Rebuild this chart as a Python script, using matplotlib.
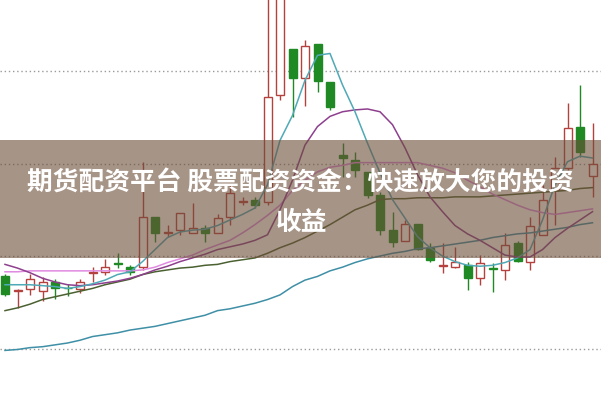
import matplotlib
matplotlib.use("Agg")
import matplotlib.pyplot as plt
from matplotlib.patches import Rectangle

# ──────────────────────────────────────────────────────────────
# Daily candles (price)
# ──────────────────────────────────────────────────────────────
opens = [9.78, 9.62, 9.64, 9.62, 9.72, 9.66, 9.64, 9.82, 9.83, 9.92, 9.88, 9.88,
         10.42, 10.25, 10.28, 10.25, 10.30, 10.25, 10.42, 10.58, 10.61, 10.58,
         11.74, 12.24, 11.92, 12.29, 11.88, 11.09, 11.04, 10.91, 10.66, 10.28,
         10.16, 10.35, 10.09, 9.89, 9.88, 9.90, 9.76, 9.87, 9.85, 10.14, 9.94,
         10.23, 10.71, 10.95, 11.40, 10.87]
closes = [9.59, 9.63, 9.75, 9.72, 9.65, 9.65, 9.72, 9.83, 9.88, 9.91, 9.83, 10.42,
          10.25, 10.26, 10.47, 10.30, 10.25, 10.41, 10.68, 10.59, 10.55, 11.72,
          12.98, 11.92, 12.27, 11.89, 11.61, 11.06, 10.93, 10.66, 10.28, 10.15,
          10.35, 10.08, 9.96, 9.90, 9.94, 9.76, 9.93, 9.86, 10.12, 9.95, 10.33,
          10.61, 10.95, 11.38, 11.13, 11.00]
highs = [9.81, 9.64, 9.81, 9.77, 9.75, 9.70, 9.75, 9.88, 9.97, 10.03, 9.90, 11.02,
         10.42, 10.34, 10.47, 10.57, 10.34, 10.45, 10.77, 10.64, 10.64, 13.09,
         13.10, 12.24, 12.34, 12.29, 11.88, 11.22, 11.13, 10.91, 10.69, 10.48,
         10.39, 10.35, 10.14, 10.14, 10.10, 9.94, 10.01, 9.93, 10.25, 10.16, 10.42,
         10.77, 11.07, 11.65, 11.85, 11.44]
lows = [9.57, 9.44, 9.58, 9.51, 9.54, 9.57, 9.60, 9.72, 9.80, 9.87, 9.80, 9.85,
        10.15, 10.21, 10.23, 10.25, 10.15, 10.25, 10.34, 10.55, 10.52, 10.55,
        11.69, 11.50, 11.62, 11.77, 11.58, 10.85, 10.85, 10.63, 10.23, 10.10,
        10.16, 10.07, 9.94, 9.82, 9.87, 9.63, 9.69, 9.61, 9.74, 9.94, 9.85,
        10.23, 10.34, 10.93, 11.07, 10.64]

# moving average lines
ma5 = [9.69, 9.69, 9.69, 9.68, 9.67, 9.65, 9.67, 9.70, 9.74, 9.80, 9.83,
       9.94, 10.07, 10.20, 10.26, 10.28, 10.29, 10.33, 10.39, 10.45, 10.52,
       10.77, 11.25, 11.52, 11.90, 12.17, 12.19, 11.85, 11.56, 11.22, 10.90,
       10.61, 10.41, 10.21, 10.09, 10.00, 9.94, 9.90, 9.89, 9.90, 9.93,
       9.98, 10.07, 10.39, 10.77, 11.02, 11.08, 11.06]
ma10 = [9.91, 9.87, 9.82, 9.76, 9.72, 9.69, 9.68, 9.69, 9.71, 9.73, 9.76,
        9.80, 9.85, 9.89, 9.94, 9.98, 10.02, 10.07, 10.10, 10.13, 10.17,
        10.23, 10.50, 10.82, 11.20, 11.40, 11.51, 11.56, 11.58, 11.59, 11.56,
        11.42, 11.17, 10.88, 10.64, 10.48, 10.33, 10.24, 10.17, 10.09, 10.01,
        9.99, 9.99, 10.07, 10.20, 10.30, 10.39, 10.48]
ma20 = [9.83, 9.83, 9.84, 9.84, 9.84, 9.84, 9.84, 9.84, 9.84, 9.84, 9.84,
        9.85, 9.88, 9.93, 9.97, 10.01, 10.07, 10.12, 10.17, 10.25, 10.34,
        10.44, 10.55, 10.71, 10.82, 10.91, 10.96, 10.98, 11.01, 11.01, 11.01,
        11.01, 11.01, 11.01, 10.98, 10.95, 10.90, 10.82, 10.75, 10.67, 10.61,
        10.55, 10.50, 10.47, 10.45, 10.47, 10.49, 10.51]
ma30 = [9.41, 9.44, 9.48, 9.53, 9.56, 9.59, 9.62, 9.65, 9.69, 9.72, 9.75,
        9.80, 9.83, 9.85, 9.87, 9.88, 9.90, 9.91, 9.94, 9.96, 9.98,
        10.03, 10.09, 10.14, 10.20, 10.27, 10.34, 10.42, 10.50, 10.55, 10.61,
        10.62, 10.62, 10.63, 10.63, 10.63, 10.64, 10.64, 10.64, 10.65, 10.66,
        10.67, 10.68, 10.69, 10.70, 10.71, 10.73, 10.74]
ma60 = [8.98, 8.99, 9.01, 9.02, 9.04, 9.06, 9.09, 9.13, 9.15, 9.17, 9.20,
        9.22, 9.24, 9.27, 9.30, 9.33, 9.36, 9.41, 9.43, 9.46, 9.49,
        9.53, 9.58, 9.67, 9.74, 9.78, 9.84, 9.88, 9.93, 9.97, 10.00,
        10.03, 10.05, 10.08, 10.09, 10.11, 10.13, 10.15, 10.17, 10.20, 10.22,
        10.24, 10.25, 10.27, 10.29, 10.31, 10.34, 10.36]

grid_levels = [9, 10, 11, 12]
title_line1 = "期货配资平台 股票配资资金：快速放大您的投资"
title_line2 = "收益"

RED = "#b5413f"
GREEN = "#1f8a24"

fig = plt.figure(figsize=(6.01, 4.0), dpi=100)
ax = fig.add_axes([0, 0, 1, 1])
ax.set_xlim(-0.4, 47.68)
ax.set_ylim(8.444, 12.768)
ax.axis("off")

for lvl in grid_levels:
    ax.axhline(lvl, color="#9a9a9a", lw=1, ls=(0, (1, 2)), zorder=1)

for i, (o, c, h, l) in enumerate(zip(opens, closes, highs, lows)):
    up = c >= o
    col = RED if up else GREEN
    ax.vlines(i, l, h, color=col, lw=1, zorder=2)
    ax.add_patch(Rectangle((i - 0.32, min(o, c)), 0.64, abs(c - o),
                           facecolor="white" if up else GREEN,
                           edgecolor=col, lw=1, zorder=3))

idx = range(len(closes))
ax.plot(idx, ma60, color="#3f8fa6", lw=1.1, zorder=4)
ax.plot(idx, ma30, color="#4b6131", lw=1.1, zorder=4)
ax.plot(idx, ma20, color="#e08ae0", lw=1.1, zorder=4)
ax.plot(idx, ma10, color="#8e3f8e", lw=1.1, zorder=4)
ax.plot(idx, ma5, color="#4fa9b6", lw=1.1, zorder=4)

# translucent caption band
fig.add_artist(Rectangle((0, 0.355), 1, 0.295, transform=fig.transFigure,
                         facecolor="#6b4d38", alpha=0.6, lw=0, zorder=10))
fam = ["Noto Sans CJK SC", "DejaVu Sans"]
fig.text(0.5, 1 - 183 / 400, title_line1, ha="center", va="center",
         color="white", fontsize=18.5, fontweight="bold", family=fam, zorder=11)
fig.text(0.501, 1 - 222 / 400, title_line2, ha="center", va="center",
         color="white", fontsize=18.5, fontweight="bold", family=fam, zorder=11)

fig.savefig("out.png", dpi=100)
plt.close(fig)
